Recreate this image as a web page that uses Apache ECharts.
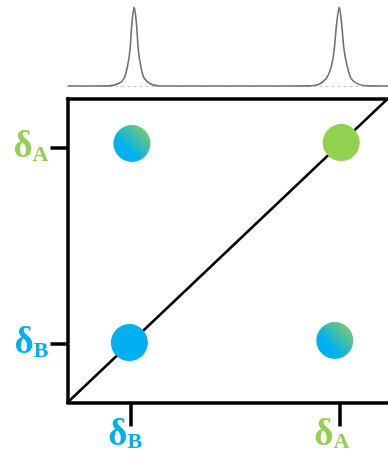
<!DOCTYPE html>
<html>
<head>
<meta charset="utf-8">
<script src="https://cdn.jsdelivr.net/npm/echarts@6/dist/echarts.min.js"></script>
<style>html,body{margin:0;padding:0;background:#fff}#c{width:388px;height:459px}</style>
</head>
<body>
<div id="c"></div>
<script>
// chemical shift positions (axis units 0..100)
const tickX = [19.6, 85.1];
const tickY = [19.4, 83.9];
const labelX = [18.0, 82.5];
const tickNames = ['B', 'A'];

// 2D peaks [x, y]
const diagB = [[19.3, 19.7]];
const diagA = [[85.4, 85.5]];
const crossPeaks = [[20.1, 85.2], [83.4, 20.4]];

// 1D spectrum trace [shift, intensity]
const spectrum = [
  [0, 0.6], [6, 0.6], [13.0, 0.8], [16.1, 4.0], [17.7, 10.7], [18.7, 24.9], [19.5, 45.9],
  [20.1, 79.9], [20.8, 100], [21.5, 79.9], [22.1, 45.9], [22.9, 24.9], [23.9, 10.7],
  [26.0, 3.1], [28.6, 0.8], [40, 0.6], [52, 0.6], [65, 0.6], [75, 0.8],
  [78.3, 2.5], [80.7, 10], [82.3, 25], [83.2, 46], [84.0, 80], [84.8, 100],
  [85.5, 80], [86.3, 46], [87.3, 25], [88.5, 10], [90.7, 3], [93.8, 0.8], [100, 0.6]
];
const baseline = [[0, 0], [100, 0]];

const BLUE = '#00B0F0', GREEN = '#92D050';
const chart = echarts.init(document.getElementById('c'), null, {renderer: 'canvas'});
const font = 'Liberation Serif';
const rich = {
  db: {fontFamily: font, fontWeight: 'bold', fontSize: 37, color: BLUE, lineHeight: 37, verticalAlign: 'top'},
  sb: {fontFamily: font, fontWeight: 'bold', fontSize: 22, color: BLUE, lineHeight: 22, padding: [24, 0, 0, 0], verticalAlign: 'bottom'},
  da: {fontFamily: font, fontWeight: 'bold', fontSize: 37, color: GREEN, lineHeight: 37, verticalAlign: 'top'},
  sa: {fontFamily: font, fontWeight: 'bold', fontSize: 22, color: GREEN, lineHeight: 22, padding: [24, 0, 0, 0], verticalAlign: 'bottom'}
};
function fmt(v) { return v < 50 ? '{db|δ}{sb|' + tickNames[0] + '}' : '{da|δ}{sa|' + tickNames[1] + '}'; }
const grad = {type: 'linear', x: 0, y: 1, x2: 1, y2: 0,
  colorStops: [{offset: 0, color: BLUE}, {offset: 0.35, color: BLUE}, {offset: 1, color: GREEN}]};
const frame = {color: '#000', width: 3.5};

chart.setOption({
  animation: false,
  grid: [
    {left: 67.5, top: 98.5, width: 322, height: 304, show: false},
    {left: 67.5, top: 7, width: 322, height: 79.5}
  ],
  xAxis: [
    {gridIndex: 0, type: 'value', min: 0, max: 100, position: 'bottom',
      axisLine: {show: true, lineStyle: frame},
      axisTick: {show: true, inside: false, length: 24, customValues: tickX, lineStyle: frame},
      axisLabel: {show: true, customValues: labelX, margin: 14, formatter: fmt, rich: rich},
      splitLine: {show: false}},
    {gridIndex: 1, type: 'value', min: 0, max: 100, show: false},
    {gridIndex: 0, type: 'value', min: 0, max: 100, position: 'top',
      axisLine: {show: true, lineStyle: frame}, axisTick: {show: false}, axisLabel: {show: false}, splitLine: {show: false}}
  ],
  yAxis: [
    {gridIndex: 0, type: 'value', min: 0, max: 100,
      axisLine: {show: true, lineStyle: frame},
      axisTick: {show: true, inside: false, length: 17, customValues: tickY, lineStyle: frame},
      axisLabel: {show: true, customValues: tickY, margin: 19, formatter: fmt, rich: rich},
      splitLine: {show: false}},
    {gridIndex: 1, type: 'value', min: 0, max: 100, show: false}
  ],
  series: [
    {type: 'line', xAxisIndex: 0, yAxisIndex: 0, data: [[0, 0], [100, 100]], symbol: 'none',
      lineStyle: {color: '#000', width: 2.5}, z: 2, silent: true},
    {type: 'scatter', xAxisIndex: 0, yAxisIndex: 0, data: diagB, symbolSize: 37, itemStyle: {color: BLUE, opacity: 1}, z: 5},
    {type: 'scatter', xAxisIndex: 0, yAxisIndex: 0, data: diagA, symbolSize: 37, itemStyle: {color: GREEN, opacity: 1}, z: 5},
    {type: 'scatter', xAxisIndex: 0, yAxisIndex: 0, data: crossPeaks, symbolSize: 37, itemStyle: {color: grad, opacity: 1}, z: 5},
    {type: 'line', xAxisIndex: 1, yAxisIndex: 1, data: baseline, symbol: 'none',
      lineStyle: {color: '#c8c8c8', width: 1, type: [3, 3]}, z: 1},
    {type: 'line', xAxisIndex: 1, yAxisIndex: 1, data: spectrum, symbol: 'none', smooth: 0.3,
      lineStyle: {color: '#707070', width: 1.6}, z: 2}
  ]
});
</script>
</body>
</html>
